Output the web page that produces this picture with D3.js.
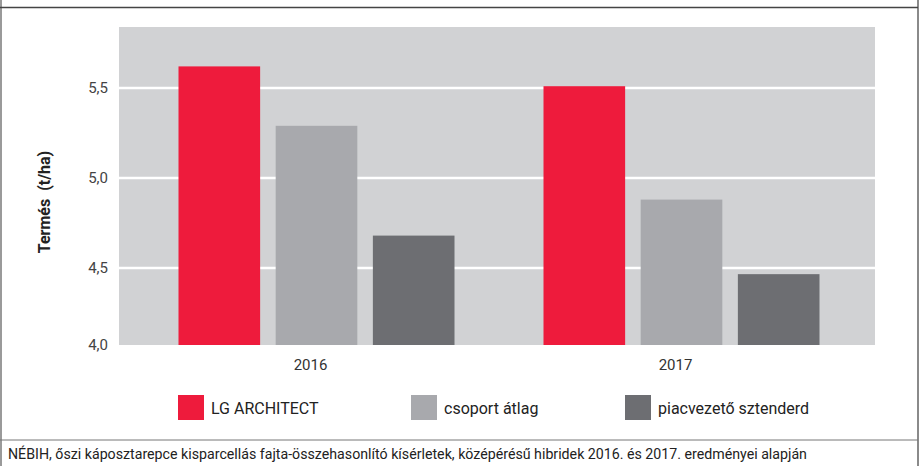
<!DOCTYPE html>
<html>
<head>
<meta charset="utf-8">
<script src="https://cdn.jsdelivr.net/npm/d3@7"></script>
<style>
  body { margin: 0; background: #fff; }
  svg { display: block; font-family: Roboto, "Open Sans", sans-serif; }
</style>
</head>
<body>
<div id="chart"></div>
<script>
// Yield data (t/ha)
var years = ["2016", "2017"];
var series = ["LG ARCHITECT", "csoport átlag", "piacvezető sztenderd"];
var values2016 = [5.62, 5.29, 4.68];
var values2017 = [5.51, 4.88, 4.46];
var yTicks = [4.0, 4.5, 5.0, 5.5];
var colors = ["#ee1b3c", "#a8a9ad", "#6d6e72"];
var footnote = "NÉBIH, őszi káposztarepce kisparcellás fajta-összehasonlító kísérletek, középérésű hibridek 2016. és 2017. eredményei alapján";

var width = 923, height = 466;
var plot = {left: 119, right: 875, top: 27, bottom: 345};

var data = years.map(function(y, i) {
  var vals = i === 0 ? values2016 : values2017;
  return {year: y, values: series.map(function(s, j) { return {key: s, value: vals[j], color: colors[j]}; })};
});

var svg = d3.select("#chart").append("svg")
  .attr("width", width)
  .attr("height", height);

//Frame of the figure
svg.append("line").attr("x1", 1).attr("x2", 1).attr("y1", 0).attr("y2", height)
  .attr("stroke", "#9a9a9a").attr("stroke-width", 2);
svg.append("line").attr("x1", 918).attr("x2", 918).attr("y1", 0).attr("y2", height)
  .attr("stroke", "#8a8a8a").attr("stroke-width", 2);
svg.append("line").attr("x1", 0).attr("x2", 918).attr("y1", 7.5).attr("y2", 7.5)
  .attr("stroke", "#444").attr("stroke-width", 1.5);
svg.append("line").attr("x1", 0).attr("x2", 918).attr("y1", 440).attr("y2", 440)
  .attr("stroke", "#777").attr("stroke-width", 1);

//The source axis has a shorter step between 4,0 and 4,5, so the scale is piecewise
var y = d3.scaleLinear()
  .domain([4.0, 4.5, 5.5])
  .range([plot.bottom, 268, 88]);

var x0 = d3.scaleBand()
  .domain(years)
  .range([134, 864]);

var groupWidth = 276;
var x1 = d3.scaleBand()
  .domain(series)
  .range([0, groupWidth])
  .paddingInner(0.16);

//Plot background
svg.append("rect")
  .attr("x", plot.left).attr("y", plot.top)
  .attr("width", plot.right - plot.left)
  .attr("height", plot.bottom - plot.top)
  .attr("fill", "#d1d2d4");

//Gridlines
svg.append("g").selectAll("line")
  .data(yTicks.slice(1))
  .enter().append("line")
    .attr("x1", plot.left).attr("x2", plot.right)
    .attr("y1", function(d) { return y(d); })
    .attr("y2", function(d) { return y(d); })
    .attr("stroke", "#fff")
    .attr("stroke-width", 2.5);

//Bars
var groups = svg.append("g").selectAll(".group")
  .data(data)
  .enter().append("g")
    .attr("class", "group")
    .attr("transform", function(d) { return "translate(" + (x0(d.year) + x0.bandwidth() / 2 - groupWidth / 2) + ",0)"; });

groups.selectAll("rect")
  .data(function(d) { return d.values; })
  .enter().append("rect")
    .attr("x", function(d) { return x1(d.key); })
    .attr("y", function(d) { return y(d.value); })
    .attr("width", x1.bandwidth())
    .attr("height", function(d) { return plot.bottom - y(d.value); })
    .attr("fill", function(d) { return d.color; });

//Y axis, Hungarian number format
var hu = d3.formatLocale({decimal: ",", thousands: " ", grouping: [3], currency: ["", " Ft"]});
var yAxis = d3.axisLeft(y)
  .tickValues(yTicks)
  .tickFormat(hu.format(".1f"))
  .tickSize(0)
  .tickPadding(0);

var yg = svg.append("g")
  .attr("transform", "translate(108,0)")
  .call(yAxis);
yg.select(".domain").remove();
yg.selectAll("text")
  .attr("font-size", 15)
  .attr("font-family", "Roboto, sans-serif")
  .attr("fill", "#444");

svg.append("text")
  .attr("transform", "translate(50,202) rotate(-90)")
  .attr("text-anchor", "middle")
  .attr("font-size", 16)
  .attr("font-weight", "bold")
  .attr("fill", "#222")
  .attr("xml:space", "preserve")
  .text("Termés  (t/ha)");

//X axis labels
var xAxis = d3.axisBottom(x0).tickSize(0).tickPadding(0);
var xg = svg.append("g")
  .attr("transform", "translate(-6,359)")
  .call(xAxis);
xg.select(".domain").remove();
xg.selectAll("text")
  .attr("font-size", 15)
  .attr("font-family", "Roboto, sans-serif")
  .attr("fill", "#333");

//Legend
var legendX = [178, 411, 625];
var legend = svg.append("g").selectAll(".legend")
  .data(series)
  .enter().append("g")
    .attr("class", "legend")
    .attr("transform", function(d, i) { return "translate(" + legendX[i] + ",395)"; });
legend.append("rect")
  .attr("width", 26).attr("height", 25)
  .attr("fill", function(d, i) { return colors[i]; });
legend.append("text")
  .attr("x", 33).attr("y", 19)
  .attr("font-size", 16)
  .attr("fill", "#222")
  .text(function(d) { return d; });

//Source footnote
svg.append("text")
  .attr("x", 8).attr("y", 459)
  .attr("font-size", 14.2)
  .attr("fill", "#222")
  .text(footnote);
</script>
</body>
</html>
